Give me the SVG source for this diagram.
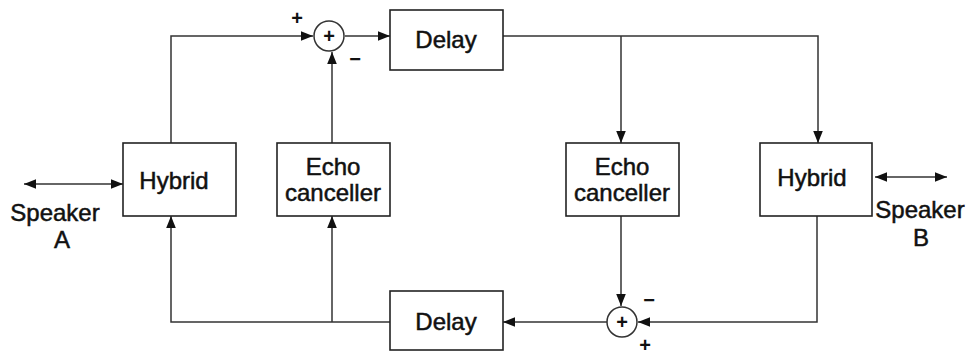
<svg xmlns="http://www.w3.org/2000/svg" width="974" height="356" viewBox="0 0 974 356">
<style>
.box{fill:#fff;stroke:#222;stroke-width:1.6}
.ln{fill:none;stroke:#333;stroke-width:1.5}
.t{font-family:"Liberation Sans",Arial,sans-serif;font-size:24px;fill:#111;stroke:#111;stroke-width:0.5;text-anchor:middle}
.s{font-family:"Liberation Sans",Arial,sans-serif;font-size:20px;font-weight:bold;fill:#111;text-anchor:middle}
</style>
<defs>
<marker id="ah" viewBox="0 0 10 10" refX="10" refY="5" markerWidth="12" markerHeight="12" markerUnits="userSpaceOnUse" orient="auto-start-reverse">
<path d="M0,1 L10,5 L0,9 Z" fill="#111"/>
</marker>
</defs>
<rect width="974" height="356" fill="#fff"/>
<g id="connectors">
<path class="ln" d="M171,143 V36 H313" marker-end="url(#ah)"/>
<path class="ln" d="M345,36 H390" marker-end="url(#ah)"/>
<path class="ln" d="M332,143 V52" marker-end="url(#ah)"/>
<path class="ln" d="M503,36 H818 V143" marker-end="url(#ah)"/>
<path class="ln" d="M621,36 V143" marker-end="url(#ah)"/>
<path class="ln" d="M621,216 V306" marker-end="url(#ah)"/>
<path class="ln" d="M817,216 V322 H638" marker-end="url(#ah)"/>
<path class="ln" d="M607,322 H503" marker-end="url(#ah)"/>
<path class="ln" d="M390,322 H171 V216" marker-end="url(#ah)"/>
<path class="ln" d="M332,322 V216" marker-end="url(#ah)"/>
<path class="ln" d="M24,184 H123" marker-start="url(#ah)" marker-end="url(#ah)"/>
<path class="ln" d="M875,177 H947" marker-start="url(#ah)" marker-end="url(#ah)"/>
</g>
<g id="sum1">
<circle cx="329" cy="36" r="15" fill="#fff" stroke="#333" stroke-width="1.5"/>
<text class="s" x="329" y="43">+</text>
<text class="s" x="297" y="25">+</text>
<text class="s" x="355" y="66">−</text>
</g>
<g id="delay1">
<rect class="box" x="390" y="10" width="113" height="60"/>
<text class="t" x="446" y="48">Delay</text>
</g>
<g id="hybridA">
<rect class="box" x="123" y="143" width="113" height="73"/>
<text class="t" x="174" y="189">Hybrid</text>
</g>
<g id="echoA">
<rect class="box" x="277" y="143" width="113" height="73"/>
<text class="t" x="333" y="175">Echo</text>
<text class="t" x="333" y="201">canceller</text>
</g>
<g id="echoB">
<rect class="box" x="566" y="143" width="113" height="73"/>
<text class="t" x="622" y="175">Echo</text>
<text class="t" x="622" y="201">canceller</text>
</g>
<g id="hybridB">
<rect class="box" x="760" y="143" width="112" height="73"/>
<text class="t" x="812" y="186">Hybrid</text>
</g>
<g id="delay2">
<rect class="box" x="390" y="291" width="113" height="59"/>
<text class="t" x="446" y="330">Delay</text>
</g>
<g id="sum2">
<circle cx="622" cy="322" r="15" fill="#fff" stroke="#333" stroke-width="1.5"/>
<text class="s" x="622" y="329">+</text>
<text class="s" x="649" y="307">−</text>
<text class="s" x="645" y="352">+</text>
</g>
<g id="speakerA">
<text class="t" x="55" y="221">Speaker</text>
<text class="t" x="62" y="248">A</text>
</g>
<g id="speakerB">
<text class="t" x="920" y="218">Speaker</text>
<text class="t" x="921" y="246">B</text>
</g>
</svg>
